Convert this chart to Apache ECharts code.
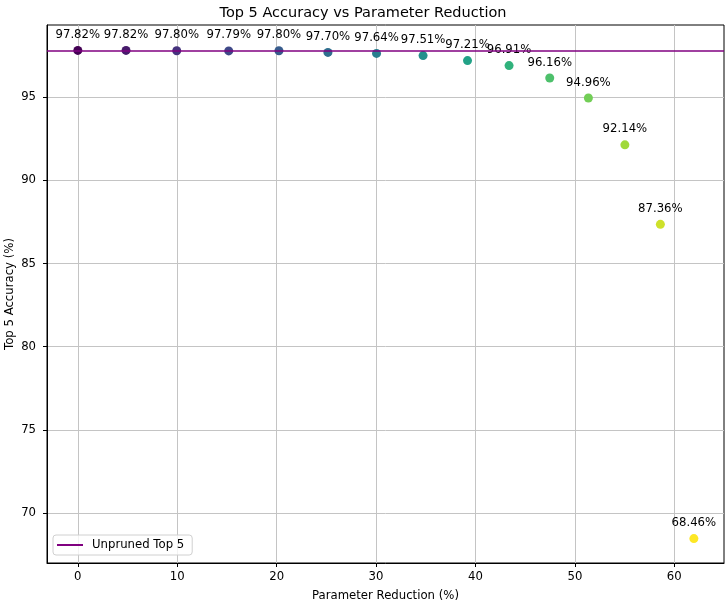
<!DOCTYPE html>
<html>
<head>
<meta charset="utf-8">
<script src="https://cdn.jsdelivr.net/npm/echarts@6/dist/echarts.min.js"></script>
<style>
  html, body { margin: 0; padding: 0; background: #fff; }
  #chart-container { width: 726px; height: 605px; }
</style>
</head>
<body>
<div id="chart-container"></div>
<script>
// data
var paramReduction = [0, 4.85, 9.95, 15.18, 20.23, 25.16, 30.05, 34.73, 39.2, 43.38, 47.47, 51.36, 55.03, 58.6, 61.97];
var top5Accuracy = [97.82, 97.82, 97.80, 97.79, 97.80, 97.70, 97.64, 97.51, 97.21, 96.91, 96.16, 94.96, 92.14, 87.36, 68.46];
var unprunedTop5 = 97.82;
var xTicks = [0, 10, 20, 30, 40, 50, 60];
var yTicks = [70, 75, 80, 85, 90, 95];

var viridis = ['#440154', '#482878', '#3e4a89', '#31688e', '#26828e',
  '#1f9e89', '#35b779', '#6dcd59', '#b4de2c', '#fde725'];

var points = paramReduction.map(function (x, i) {
  return [x, top5Accuracy[i], i];
});

var dom = document.getElementById('chart-container');
var myChart = echarts.init(dom, null, { renderer: 'canvas' });

var font = 'DejaVu Sans';
var gridColor = '#c4c4c4';

var option = {
  animation: false,
  textStyle: { fontFamily: font },
  title: {
    text: 'Top 5 Accuracy vs Parameter Reduction',
    left: 'center',
    top: 6,
    padding: 0,
    textStyle: { fontFamily: font, fontSize: 14.5, fontWeight: 'normal', color: '#000' }
  },
  grid: {
    left: 47, right: 2, top: 25, bottom: 42,
    outerBoundsMode: 'none',
    containLabel: false,
    show: true, borderColor: '#000', borderWidth: 1, backgroundColor: '#fff'
  },
  legend: {
    left: 53, top: 535,
    orient: 'vertical',
    padding: [4, 8, 4, 4],
    backgroundColor: 'rgba(255,255,255,0.8)',
    borderColor: '#d0d0d0', borderWidth: 1, borderRadius: 3,
    itemWidth: 26, itemHeight: 2, icon: 'rect',
    textStyle: { fontFamily: font, fontSize: 11.7, color: '#000', padding: [0, 0, 0, 4] },
    data: ['Unpruned Top 5']
  },
  visualMap: {
    show: false,
    seriesIndex: 0,
    dimension: 2,
    min: 0,
    max: paramReduction.length - 1,
    inRange: { color: viridis }
  },
  xAxis: {
    type: 'value',
    min: -3.1, max: 65,
    name: 'Parameter Reduction (%)',
    nameLocation: 'middle',
    nameGap: 27,
    nameMoveOverlap: false,
    nameTextStyle: { fontFamily: font, fontSize: 11.7, color: '#000' },
    axisLine: { show: true, onZero: false, lineStyle: { color: '#000', width: 1 } },
    axisTick: { show: true, length: 4, customValues: xTicks, lineStyle: { color: '#000' } },
    axisLabel: { customValues: xTicks, margin: 8, fontSize: 11.7, color: '#000', fontFamily: font },
    splitLine: { show: true, lineStyle: { color: gridColor, width: 1 } }
  },
  yAxis: {
    type: 'value',
    min: 66.99, max: 99.35,
    name: 'Top 5 Accuracy (%)',
    nameLocation: 'middle',
    nameRotate: 90,
    nameGap: 31,
    nameMoveOverlap: false,
    nameTextStyle: { fontFamily: font, fontSize: 11.7, color: '#000' },
    axisLine: { show: true, onZero: false, lineStyle: { color: '#000', width: 1 } },
    axisTick: { show: true, length: 4, customValues: yTicks, lineStyle: { color: '#000' } },
    axisLabel: { customValues: yTicks, margin: 11, fontSize: 11.7, color: '#000', fontFamily: font },
    splitLine: { show: true, lineStyle: { color: gridColor, width: 1 } }
  },
  series: [
    {
      name: 'Accuracy',
      type: 'scatter',
      symbolSize: 9,
      data: points,
      z: 2,
      itemStyle: { opacity: 1 },
      label: {
        show: true,
        position: 'top',
        distance: 5,
        fontFamily: font,
        fontSize: 11.7,
        color: '#000',
        opacity: 1,
        formatter: function (p) { return p.value[1].toFixed(2) + '%'; }
      }
    },
    {
      name: 'Unpruned Top 5',
      type: 'line',
      data: [],
      color: '#800080',
      lineStyle: { color: '#800080', width: 1.5 },
      markLine: {
        silent: true,
        symbol: 'none',
        z: 5,
        label: { show: false },
        lineStyle: { color: '#800080', width: 1.5, type: 'solid' },
        data: [{ yAxis: unprunedTop5 }]
      }
    }
  ]
};

if (option && typeof option === 'object') {
  myChart.setOption(option);
}

window.addEventListener('resize', myChart.resize);
</script>
</body>
</html>
